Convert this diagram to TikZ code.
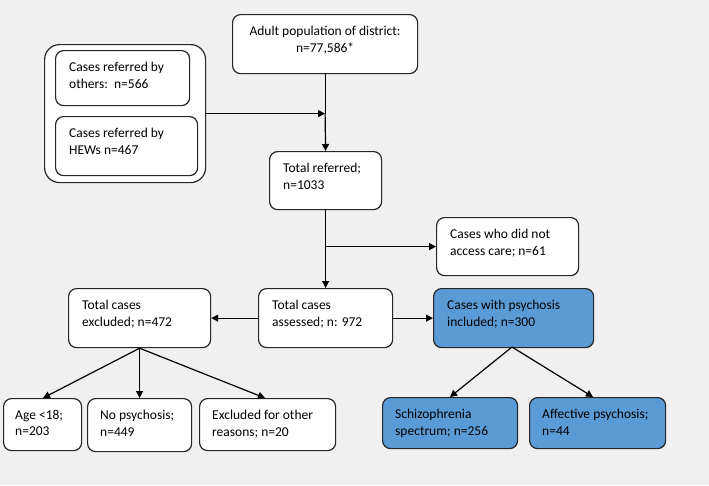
\documentclass[tikz,border=0pt]{standalone}
\usepackage{fontspec}
\setmainfont{Carlito}
\usetikzlibrary{arrows.meta}
\definecolor{bg}{HTML}{F0F0F0}
\definecolor{bluefill}{HTML}{5B9BD5}
\definecolor{edge}{HTML}{262626}
\tikzset{
  box/.style={draw=edge, line width=1.2pt, rounded corners=8pt, fill=white, inner sep=0pt, anchor=north west},
  bluebox/.style={box, fill=bluefill},
  grp/.style={draw=edge, line width=1.2pt, rounded corners=15pt, fill=white, inner sep=0pt, anchor=north west},
  txt/.style={inner sep=0pt, anchor=north west, align=left, font=\fontsize{13.5}{16.5}\selectfont, text=black},
  ctxt/.style={inner sep=0pt, anchor=north, align=center, font=\fontsize{13.5}{16.5}\selectfont, text=black},
  arr/.style={draw=black, line width=1.2pt, -{Triangle[length=7pt,width=7pt]}},
  ln/.style={draw=black, line width=1.2pt},
}
\begin{document}
\begin{tikzpicture}[x=1pt,y=-1pt]
\fill[bg] (0,0) rectangle (709,485);
\useasboundingbox (0,0) rectangle (709,485);

% boxes
\node[box, minimum width=185pt, minimum height=59pt] (adult) at (232,14) {};
\node[ctxt] (adultT) at ([yshift=-12pt]adult.north) {Adult population of district:\\n=77,586*};

\node[grp, minimum width=161pt, minimum height=138pt] (grp) at (44,44) {};
\node[box, minimum width=134pt, minimum height=55pt] (others) at (55,50) {};
\node[txt] (othersT) at ([xshift=14pt,yshift=-12pt]others.north west) {Cases referred by\\others:\ \ n=566};
\node[box, minimum width=142pt, minimum height=59pt] (hews) at (55,116) {};
\node[txt] (hewsT) at ([xshift=14pt,yshift=-12pt]hews.north west) {Cases referred by\\HEWs n=467};

\node[box, minimum width=112pt, minimum height=58pt] (total) at (269,151) {};
\node[txt] (totalT) at ([xshift=14pt,yshift=-12pt]total.north west) {Total referred;\\n=1033};

\node[box, minimum width=142pt, minimum height=58pt] (noacc) at (436,217) {};
\node[txt] (noaccT) at ([xshift=14pt,yshift=-12pt]noacc.north west) {Cases who did not\\access care; n=61};

\node[box, minimum width=142pt, minimum height=59pt] (excl) at (68,288) {};
\node[txt] (exclT) at ([xshift=14pt,yshift=-12pt]excl.north west) {Total cases\\excluded; n=472};

\node[box, minimum width=134pt, minimum height=59pt] (assess) at (258,288) {};
\node[txt] (assessT) at ([xshift=14pt,yshift=-12pt]assess.north west) {Total cases\\assessed; n: 972};

\node[bluebox, minimum width=160pt, minimum height=59pt] (psy) at (433,288) {};
\node[txt] (psyT) at ([xshift=14pt,yshift=-12pt]psy.north west) {Cases with psychosis\\included; n=300};

\node[box, minimum width=78pt, minimum height=52pt] (age) at (3,398) {};
\node[txt] (ageT) at ([xshift=12pt,yshift=-12pt]age.north west) {Age <18;\\n=203};

\node[box, minimum width=104pt, minimum height=53pt] (nopsy) at (87,398) {};
\node[txt] (nopsyT) at ([xshift=13pt,yshift=-12pt]nopsy.north west) {No psychosis;\\n=449};

\node[box, minimum width=136pt, minimum height=52pt] (other) at (199,398) {};
\node[txt] (otherT) at ([xshift=13pt,yshift=-12pt]other.north west) {Excluded for other\\reasons; n=20};

\node[bluebox, minimum width=135pt, minimum height=51pt] (schizo) at (382,397) {};
\node[txt] (schizoT) at ([xshift=13pt,yshift=-12pt]schizo.north west) {Schizophrenia\\spectrum; n=256};

\node[bluebox, minimum width=136pt, minimum height=51pt] (aff) at (529,397) {};
\node[txt] (affT) at ([xshift=13pt,yshift=-12pt]aff.north west) {Affective psychosis;\\n=44};

% connectors
\coordinate (join1) at (adult.south |- grp.east);
\draw[ln] (adult.south) -- (join1);
\draw[arr] (join1) -- (total.north);
\draw[arr] (grp.east) -- (join1);

\coordinate (join2) at (total.south |- noacc.west);
\draw[arr] (total.south) -- (assess.north);
\draw[arr] (join2) -- (noacc.west);

\draw[arr] (assess.west) -- (excl.east);
\draw[arr] (assess.east) -- (psy.west);

\coordinate (age_t) at (43,398);
\coordinate (other_t) at (265,398);
\draw[arr] (excl.south) -- (age_t);
\draw[arr] (excl.south) -- (excl.south |- nopsy.north);
\draw[arr] (excl.south) -- (other_t);

\coordinate (psyB) at (512,347);
\coordinate (schizo_t) at (450,397);
\coordinate (aff_t) at (593,397);
\draw[arr] (psyB) -- (schizo_t);
\draw[arr] (psyB) -- (aff_t);
\end{tikzpicture}
\end{document}
